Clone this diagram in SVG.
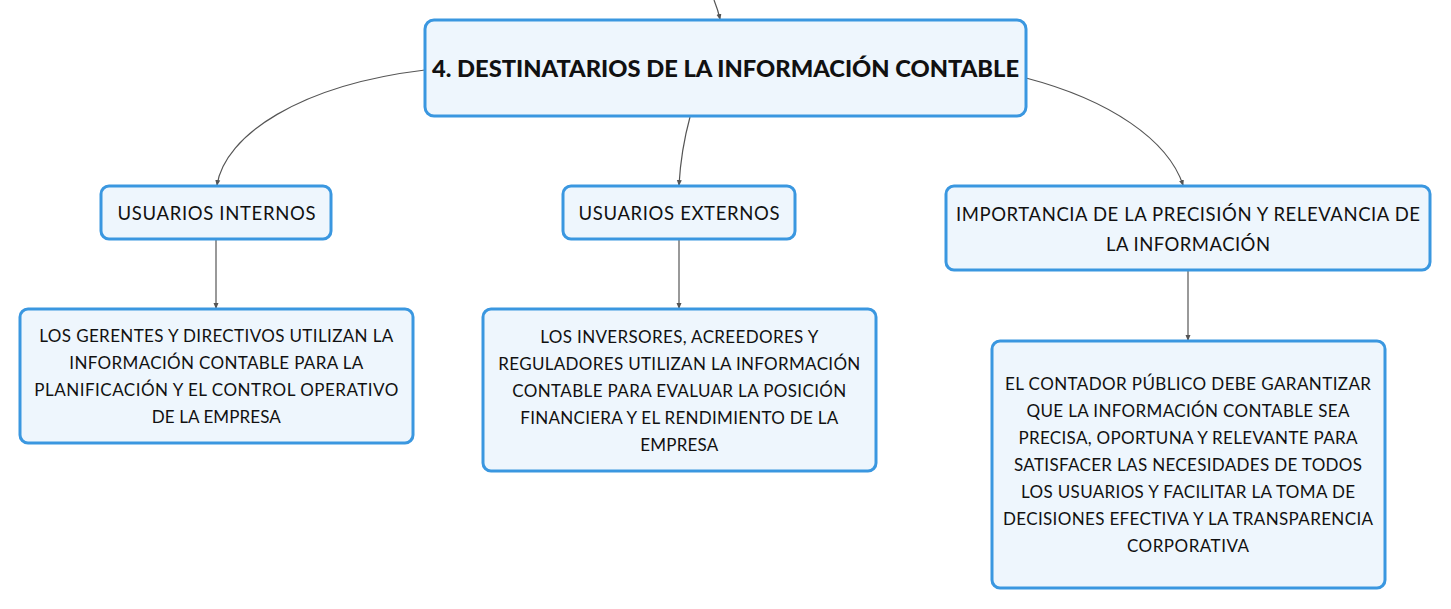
<svg xmlns="http://www.w3.org/2000/svg" width="1451" height="609" viewBox="0 0 1451 609">
<defs>
<marker id="ah" viewBox="0 0 6 6" refX="5" refY="3" markerWidth="6" markerHeight="6" markerUnits="userSpaceOnUse" orient="auto">
<path d="M0,0.5 L6,3 L0,5.5 z" fill="#555"/>
</marker>
<style>
.box{fill:#eef6fd;stroke:#3a97e0;stroke-width:3}
.t{font-family:Lato,"Noto Sans",sans-serif;fill:#111;text-anchor:middle;dominant-baseline:central}
.ti{font-size:22.5px;font-weight:900}
.s{font-size:18.5px}
.b{font-size:17px}
.c{fill:none;stroke:#555;stroke-width:1.2;marker-end:url(#ah)}
</style>
</defs>
<rect width="1451" height="609" fill="#ffffff"/>
<g id="connectors">
<path class="c" d="M714,0 Q718,10 720,19"/>
<path class="c" d="M425,70 C300,85 225,135 217,185"/>
<path class="c" d="M690,117 Q681,150 679,185"/>
<path class="c" d="M1026,78 C1110,100 1168,140 1183,185"/>
<path class="c" d="M216,239 L216,308"/>
<path class="c" d="M679,239 L679,308"/>
<path class="c" d="M1188,270 L1188,340"/>
</g>
<g id="main">
<rect class="box" x="425" y="20" width="601" height="96" rx="9"/>
<text class="t ti" x="725.5" y="68" textLength="587" lengthAdjust="spacingAndGlyphs">4. DESTINATARIOS DE LA INFORMACIÓN CONTABLE</text>
</g>
<g id="internos">
<rect class="box" x="101" y="186" width="230" height="53" rx="8"/>
<text class="t s" x="216.5" y="213" textLength="198">USUARIOS INTERNOS</text>
</g>
<g id="externos">
<rect class="box" x="563" y="186" width="232" height="53" rx="8"/>
<text class="t s" x="679" y="213" textLength="201">USUARIOS EXTERNOS</text>
</g>
<g id="importancia">
<rect class="box" x="946" y="186" width="484" height="84" rx="8"/>
<text class="t s" x="1188" y="214" textLength="464">IMPORTANCIA DE LA PRECISIÓN Y RELEVANCIA DE</text>
<text class="t s" x="1188" y="244" textLength="164">LA INFORMACIÓN</text>
</g>
<g id="gerentes">
<rect class="box" x="20" y="309" width="393" height="134" rx="8"/>
<text class="t b" x="216.3" y="335" textLength="354">LOS GERENTES Y DIRECTIVOS UTILIZAN LA</text>
<text class="t b" x="216.3" y="362" textLength="294">INFORMACIÓN CONTABLE PARA LA</text>
<text class="t b" x="216.3" y="389" textLength="364">PLANIFICACIÓN Y EL CONTROL OPERATIVO</text>
<text class="t b" x="216.3" y="416" textLength="129">DE LA EMPRESA</text>
</g>
<g id="inversores">
<rect class="box" x="483" y="309" width="393" height="162" rx="8"/>
<text class="t b" x="679.3" y="336" textLength="278">LOS INVERSORES, ACREEDORES Y</text>
<text class="t b" x="679.3" y="363" textLength="362">REGULADORES UTILIZAN LA INFORMACIÓN</text>
<text class="t b" x="679.3" y="390" textLength="334">CONTABLE PARA EVALUAR LA POSICIÓN</text>
<text class="t b" x="679.3" y="417" textLength="318">FINANCIERA Y EL RENDIMIENTO DE LA</text>
<text class="t b" x="679.3" y="444" textLength="78">EMPRESA</text>
</g>
<g id="contador">
<rect class="box" x="992" y="341" width="393" height="247" rx="8"/>
<text class="t b" x="1188" y="383" textLength="366">EL CONTADOR PÚBLICO DEBE GARANTIZAR</text>
<text class="t b" x="1188" y="410" textLength="323">QUE LA INFORMACIÓN CONTABLE SEA</text>
<text class="t b" x="1188" y="437" textLength="339">PRECISA, OPORTUNA Y RELEVANTE PARA</text>
<text class="t b" x="1188" y="464" textLength="348">SATISFACER LAS NECESIDADES DE TODOS</text>
<text class="t b" x="1188" y="491" textLength="334">LOS USUARIOS Y FACILITAR LA TOMA DE</text>
<text class="t b" x="1188" y="518" textLength="370">DECISIONES EFECTIVA Y LA TRANSPARENCIA</text>
<text class="t b" x="1188" y="545" textLength="122">CORPORATIVA</text>
</g>
</svg>
